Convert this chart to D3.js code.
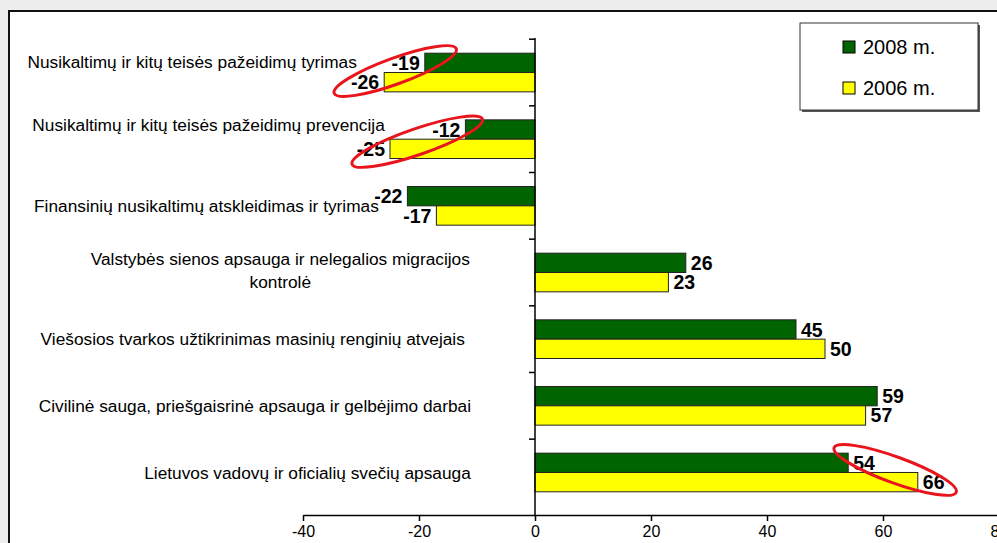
<!DOCTYPE html>
<html>
<head>
<meta charset="utf-8">
<script src="https://cdn.jsdelivr.net/npm/d3@7"></script>
<style>
  body { margin: 0; background: #ededed; }
  svg { display: block; font-family: "Liberation Sans", Arial, sans-serif; }
</style>
</head>
<body>
<svg width="997" height="543"></svg>
<script>
// data
var categories = [
  "Nusikaltimų ir kitų teisės pažeidimų tyrimas",
  "Nusikaltimų ir kitų teisės pažeidimų prevencija",
  "Finansinių nusikaltimų atskleidimas ir tyrimas",
  "Valstybės sienos apsauga ir nelegalios migracijos|kontrolė",
  "Viešosios tvarkos užtikrinimas masinių renginių atvejais",
  "Civilinė sauga, priešgaisrinė apsauga ir gelbėjimo darbai",
  "Lietuvos vadovų ir oficialių svečių apsauga"
];
var seriesNames = ["2008 m.", "2006 m."];
var values2008 = [-19, -12, -22, 26, 45, 59, 54];
var values2006 = [-26, -25, -17, 23, 50, 57, 66];
var xTicks = [-40, -20, 0, 20, 40, 60, 80];

// label placement (right edge, vertical shift) as in the original slide
var labelRight = [357, 385, 379, 470, 465, 471, 471];
var labelShift = [-10.5, -14, 0, -2, 0, 0, 0];

// red ellipses drawn over the chart
var marks = [
  {cat: 0, v: -24.1, dy: -1.5, rx: 65, ry: 13, rot: -20},
  {cat: 1, v: -20.3, dy: 2.5, rx: 69, ry: 13, rot: -19},
  {cat: 6, v: 62.1, dy: -2.5, rx: 65, ry: 13, rot: 20}
];

var colors = ["#006400", "#ffff00"];

var svg = d3.select("svg");

// frame
svg.append("rect")
  .attr("x", 9).attr("y", 11)
  .attr("width", 1000).attr("height", 540)
  .attr("fill", "#fff")
  .attr("stroke", "#111").attr("stroke-width", 2);

var x = d3.scaleLinear().domain([-40, 80]).range([303, 999]);
var y = d3.scaleBand().domain(d3.range(categories.length))
  .range([39.2, 505.8]).paddingInner(0.42).paddingOuter(0.21);
var inner = d3.scaleBand().domain([0, 1]).range([0, y.bandwidth()]);
var axisY = 515;

var rows = categories.map(function(c, i) {
  return {i: i, vals: [values2008[i], values2006[i]]};
});

// bars
var g = svg.append("g");
rows.forEach(function(r) {
  r.vals.forEach(function(v, s) {
    g.append("rect")
      .attr("x", x(Math.min(0, v)))
      .attr("y", y(r.i) + inner(s))
      .attr("width", Math.abs(x(v) - x(0)))
      .attr("height", inner.bandwidth())
      .attr("fill", colors[s])
      .attr("stroke", "#222").attr("stroke-width", 1);
  });
});

// zero line with small ticks
svg.append("line")
  .attr("x1", x(0)).attr("x2", x(0))
  .attr("y1", 38).attr("y2", axisY)
  .attr("stroke", "#000").attr("stroke-width", 1.5);
var step = y.step();
d3.range(categories.length).forEach(function(i) {
  var yy = y.range()[0] + i * step;
  svg.append("line")
    .attr("x1", x(0) - 6).attr("x2", x(0))
    .attr("y1", yy).attr("y2", yy)
    .attr("stroke", "#000").attr("stroke-width", 1.5);
});

// bottom axis
var ax = svg.append("g")
  .attr("transform", "translate(0," + axisY + ")")
  .call(d3.axisBottom(x).tickValues(xTicks)
    .tickFormat(function(d) { return String(d); })
    .tickSize(6).tickSizeOuter(0).tickPadding(5));
ax.select(".domain").attr("stroke", "#000").attr("stroke-width", 1.5);
ax.selectAll(".tick line").attr("stroke", "#000").attr("stroke-width", 1.5);
ax.selectAll(".tick text")
  .attr("font-size", "16px")
  .attr("font-family", "Liberation Sans, Arial, sans-serif")
  .attr("fill", "#000");

// value labels
rows.forEach(function(r) {
  r.vals.forEach(function(v, s) {
    svg.append("text")
      .attr("x", v < 0 ? x(v) - 5 : x(v) + 5)
      .attr("y", y(r.i) + inner(s) + inner.bandwidth() / 2)
      .attr("dy", "0.36em")
      .attr("text-anchor", v < 0 ? "end" : "start")
      .attr("font-size", "19.5px")
      .attr("font-weight", "bold")
      .text(v);
  });
});

// category labels
categories.forEach(function(c, i) {
  var lines = c.split("|");
  var t = svg.append("text")
    .attr("font-size", "17.3px")
    .attr("text-anchor", "middle")
    .attr("fill", "#000");
  var cy = y(i) + y.bandwidth() / 2 + labelShift[i];
  var lh = 22.7;
  lines.forEach(function(l, k) {
    t.append("tspan")
      .attr("x", 0)
      .attr("y", cy + (k - (lines.length - 1) / 2) * lh)
      .attr("dy", "0.35em")
      .text(l);
  });
  var w = t.node().getBBox().width;
  t.attr("transform", "translate(" + (labelRight[i] - w / 2) + ",0)");
});

// legend
var lg = svg.append("g").attr("transform", "translate(800,23)");
lg.append("rect").attr("x", 2).attr("y", 2).attr("width", 178).attr("height", 87).attr("fill", "#555");
lg.append("rect").attr("width", 178).attr("height", 87)
  .attr("fill", "#fff").attr("stroke", "#333").attr("stroke-width", 1);
seriesNames.forEach(function(n, s) {
  var yy = 24 + s * 41;
  lg.append("rect").attr("x", 43).attr("y", yy - 6).attr("width", 12).attr("height", 12)
    .attr("fill", colors[s]).attr("stroke", "#000").attr("stroke-width", 1);
  lg.append("text").attr("x", 63).attr("y", yy).attr("dy", "0.36em")
    .attr("font-size", "20px").text(n);
});

// red ellipses
marks.forEach(function(m) {
  var cx = x(m.v), cy = y(m.cat) + y.bandwidth() / 2 + m.dy;
  svg.append("ellipse")
    .attr("cx", 0).attr("cy", 0)
    .attr("rx", m.rx).attr("ry", m.ry)
    .attr("transform", "translate(" + cx + "," + cy + ") rotate(" + m.rot + ")")
    .attr("fill", "none")
    .attr("stroke", "#e8161c").attr("stroke-width", 3);
});
</script>
</body>
</html>
